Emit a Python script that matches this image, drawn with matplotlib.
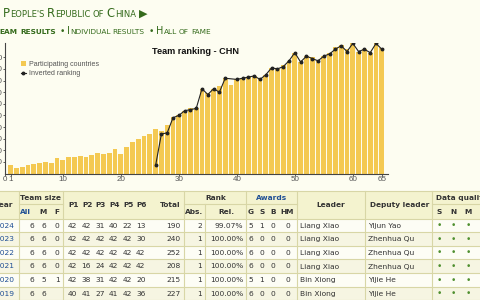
import matplotlib
matplotlib.use('Agg')
import matplotlib.pyplot as plt
from matplotlib.patches import Rectangle
import numpy as np

# ---------------- data ----------------
imo_index = list(range(1, 66))
participating = [7, 5, 6, 7, 8, 9, 10, 9, 13, 12,
                 14, 14, 15, 14, 16, 18, 17, 18, 21, 17,
                 23, 27, 30, 32, 34, 38, 37, 42, 49, 50,
                 54, 56, 56, 73, 69, 73, 75, 82, 76, 81,
                 82, 83, 84, 82, 85, 91, 90, 93, 97, 104,
                 96, 101, 100, 97, 101, 104, 109, 111, 107, 112,
                 105, 107, 104, 112, 108]
inverted_rank = [None] * 25 + [7, 34, 35, 48, 50, 54, 55, 56, 73, 68,
                               73, 70, 82, None, 81, 82, 83, 84, 81, 85,
                               91, 90, 92, 97, 104, 96, 101, 99, 97, 101,
                               103, 107, 110, 105, 112, 105, 107, 104, 112, 107]
x_ticks = [0, 1, 10, 20, 30, 40, 50, 60, 65]
y_ticks = [10, 20, 30, 40, 50, 60, 70, 80, 90, 100]

years = ['2024', '2023', '2022', '2021', '2020', '2019']
team_all = ['6', '6', '6', '6', '6', '6']
team_m = ['6', '6', '6', '6', '5', '6']
team_f = ['0', '0', '0', '0', '1', '']
p1 = ['42', '42', '42', '42', '42', '40']
p2 = ['42', '42', '42', '16', '38', '41']
p3 = ['31', '42', '42', '24', '31', '27']
p4 = ['40', '42', '42', '42', '42', '41']
p5 = ['22', '42', '42', '42', '42', '42']
p6 = ['13', '30', '42', '42', '20', '36']
totals = ['190', '240', '252', '208', '215', '227']
rank_abs = ['2', '1', '1', '1', '1', '1']
rank_rel = ['99.07%', '100.00%', '100.00%', '100.00%', '100.00%', '100.00%']
gold = ['5', '6', '6', '6', '5', '6']
silver = ['1', '0', '0', '0', '1', '0']
bronze = ['0', '0', '0', '0', '0', '0']
hm = ['0', '0', '0', '0', '0', '0']
leaders = ['Liang Xiao', 'Liang Xiao', 'Liang Xiao', 'Liang Xiao', 'Bin Xiong', 'Bin Xiong']
deputies = ['Yijun Yao', 'Zhenhua Qu', 'Zhenhua Qu', 'Zhenhua Qu', 'Yijie He', 'Yijie He']

# ---------------- figure ----------------
W, H = 480, 300
BG = '#fdfdf1'
GREEN = '#356b1c'
BLUE = '#1f4f95'
TXT = '#333333'
fig = plt.figure(figsize=(W / 100, H / 100), dpi=100)
fig.patch.set_facecolor(BG)

# overlay in pixel coordinates (y downward)
pa = fig.add_axes([0, 0, 1, 1])
pa.set_xlim(0, W)
pa.set_ylim(H, 0)
pa.axis('off')

# ---------------- chart ----------------
x0, x1 = 4.8, 387.6
y_bot, y_top = 173.5, 43.4
ax = fig.add_axes([x0 / W, 1 - y_bot / H, (x1 - x0) / W, (y_bot - y_top) / H])
ax.set_facecolor('none')
bars = ax.bar(imo_index, participating, width=0.8, color='#f4c952', edgecolor='none',
              label='Participating countries', zorder=2)
rx = [i for i, r in zip(imo_index, inverted_rank) if r is not None]
ry = [r for r in inverted_rank if r is not None]
line, = ax.plot(rx, ry, color='#222222', lw=0.8, marker='o', ms=1.8,
                label='Inverted ranking', zorder=3)
ax.set_xlim(0, 66)
ax.set_ylim(0, 112)
ax.set_xticks(x_ticks)
ax.set_yticks(y_ticks)
for s in ['top', 'right']:
    ax.spines[s].set_visible(False)
for s in ['left', 'bottom']:
    ax.spines[s].set_color('#444444')
    ax.spines[s].set_linewidth(0.8)
ax.tick_params(axis='both', length=1.2, width=0.6, pad=0.3, colors='#444444',
               labelsize=5.8, labelcolor='#555555')
for lab in ax.get_xticklabels() + ax.get_yticklabels():
    lab.set_fontfamily('Liberation Sans')
leg = ax.legend([bars, line], ['Participating countries', 'Inverted ranking'],
                loc='upper left', bbox_to_anchor=(20.5 / W, 1 - 61.0 / H),
                bbox_transform=fig.transFigure, frameon=False, borderpad=0,
                borderaxespad=0, handlelength=0.8, handleheight=0.8,
                handletextpad=0.35, labelspacing=0.3,
                prop={'family': 'Liberation Sans', 'size': 5.1})
for t in leg.get_texts():
    t.set_color('#555555')
pa.text(195.5, 51.7, 'Team ranking - CHN', ha='center', va='center',
        fontsize=6.6, fontweight='bold', family='Liberation Sans', color='#111111')

# ---------------- header (small caps) ----------------
renderer = fig.canvas.get_renderer()


def text_w(s, size, weight):
    t = pa.text(0, 0, s, fontsize=size, fontweight=weight)
    w = t.get_window_extent(renderer).width
    t.remove()
    return w


def small_caps(x, y, text, big, small, color, weight='normal'):
    sp = text_w('A A', small, weight) - text_w('AA', small, weight)
    for i, word in enumerate(text.split(' ')):
        if i > 0:
            x += sp
        runs = []
        for ch in word:
            size = big if ch.isupper() else small
            if runs and runs[-1][1] == size:
                runs[-1][0] += ch.upper()
            else:
                runs.append([ch.upper(), size])
        for s, size in runs:
            t = pa.text(x, y, s, fontsize=size, fontweight=weight, color=color,
                        va='baseline', ha='left')
            x += t.get_window_extent(renderer).width
    return x


xe = small_caps(3.3, 16.8, "People's Republic of China", 8.3, 6.0, GREEN)
pa.text(xe + 3.5, 16.8, '\u25B6', fontsize=8, color=GREEN, va='baseline', ha='left')

xe = small_caps(-7.3, 34.4, 'Team results', 7.0, 5.35, GREEN, weight='bold')
pa.text(xe + 3.5, 32.0, '\u2022', fontsize=6.5, color=GREEN, va='center', ha='left')
xe = small_caps(xe + 11.5, 34.4, 'Individual results', 7.0, 5.35, GREEN)
pa.text(xe + 3.5, 32.0, '\u2022', fontsize=6.5, color=GREEN, va='center', ha='left')
small_caps(xe + 11.5, 34.4, 'Hall of fame', 7.0, 5.35, GREEN)

# ---------------- table ----------------
T_TOP, H_MID, H_BOT = 190.5, 204.3, 218.5
ROW_H = 13.6
HDR_BG = '#f4f3cf'
ROW_BG = ['#fdfdf5', '#f6f5e2']
LINE = '#d8d6a6'
FS = 5.4
FSH = 5.3

pa.add_patch(Rectangle((-2, T_TOP), W + 4, H_BOT - T_TOP, facecolor=HDR_BG,
                       edgecolor='none', zorder=1))
for k in range(len(years)):
    yt = H_BOT + k * ROW_H
    pa.add_patch(Rectangle((-2, yt), W + 4, ROW_H, facecolor=ROW_BG[k % 2],
                           edgecolor='none', zorder=1))
# horizontal lines
pa.plot([-2, W + 2], [T_TOP, T_TOP], color=LINE, lw=0.8, zorder=2)
for xa, xb in [(18.5, 63), (183.5, 297), (432, W + 2)]:
    pa.plot([xa, xb], [H_MID, H_MID], color=LINE, lw=0.8, zorder=2)
for k in range(len(years) + 1):
    yl = H_BOT + k * ROW_H
    pa.plot([-2, W + 2], [yl, yl], color=LINE, lw=0.8, zorder=2)
# vertical lines
for xv in [18.5, 63, 183.5, 246, 297, 365, 432]:
    pa.plot([xv, xv], [T_TOP, H + 2], color=LINE, lw=0.8, zorder=2)
pa.plot([205, 205], [H_MID, H + 2], color=LINE, lw=0.8, zorder=2)

hkw = dict(fontsize=FSH, fontweight='bold', ha='center', va='center', zorder=3)
yh1 = (T_TOP + H_MID) / 2 + 0.3
yh2 = (H_MID + H_BOT) / 2 + 0.3
yhs = (T_TOP + H_BOT) / 2 + 0.3
pa.text(3, yhs, 'Year', color=TXT, **hkw)
pa.text(40.7, yh1, 'Team size', color=TXT, **hkw)
pa.text(25.7, yh2, 'All', color=BLUE, **hkw)
pa.text(43, yh2, 'M', color=TXT, **hkw)
pa.text(57, yh2, 'F', color=TXT, **hkw)
p_right = [77.5, 91.1, 104.7, 118.3, 131.9, 145.5]
for j, xr in enumerate(p_right):
    pa.text(xr - 3.8, yhs, f'P{j + 1}', color=TXT, **hkw)
pa.text(170, yhs, 'Total', color=TXT, **hkw)
pa.text(215.5, yh1, 'Rank', color=TXT, **hkw)
pa.text(194.5, yh2, 'Abs.', color=TXT, **hkw)
pa.text(226.5, yh2, 'Rel.', color=TXT, **hkw)
pa.text(272, yh1, 'Awards', color=BLUE, **hkw)
aw_x = [251, 262, 273, 287.5]
for lab, xc in zip(['G', 'S', 'B', 'HM'], aw_x):
    pa.text(xc, yh2, lab, color=TXT, **hkw)
pa.text(331, yhs, 'Leader', color=TXT, **hkw)
pa.text(399.5, yhs, 'Deputy leader', color=TXT, **hkw)
pa.text(436, yh1, 'Data quality', color=TXT, fontsize=FSH, fontweight='bold',
        ha='left', va='center', zorder=3)
dq_x = [439.5, 453.5, 468]
for lab, xc in zip(['S', 'N', 'M'], dq_x):
    pa.text(xc, yh2, lab, color=TXT, **hkw)

for k in range(len(years)):
    yc = H_BOT + (k + 0.5) * ROW_H + 0.4
    rk = dict(fontsize=FS, ha='right', va='center', color=TXT, zorder=3)
    pa.text(14.2, yc, years[k], **dict(rk, color=BLUE))
    pa.text(34.5, yc, team_all[k], **rk)
    pa.text(45.8, yc, team_m[k], **rk)
    pa.text(59.6, yc, team_f[k], **rk)
    for vals, xr in zip([p1, p2, p3, p4, p5, p6], p_right):
        pa.text(xr, yc, vals[k], **rk)
    pa.text(180.3, yc, totals[k], **rk)
    pa.text(202.3, yc, rank_abs[k], **rk)
    pa.text(243.3, yc, rank_rel[k], **rk)
    for vals, xc in zip([gold, silver, bronze, hm], aw_x):
        pa.text(xc, yc, vals[k], fontsize=FS, ha='center', va='center',
                color=TXT, zorder=3)
    pa.text(300, yc, leaders[k], fontsize=FS, ha='left', va='center', color=TXT, zorder=3)
    pa.text(368, yc, deputies[k], fontsize=FS, ha='left', va='center', color=TXT, zorder=3)
    for xc in dq_x:
        pa.text(xc, yc, '\u2022', fontsize=6.5, ha='center', va='center',
                color='#4f8f2f', zorder=3)

fig.savefig('out.png', dpi=100, facecolor=BG)
